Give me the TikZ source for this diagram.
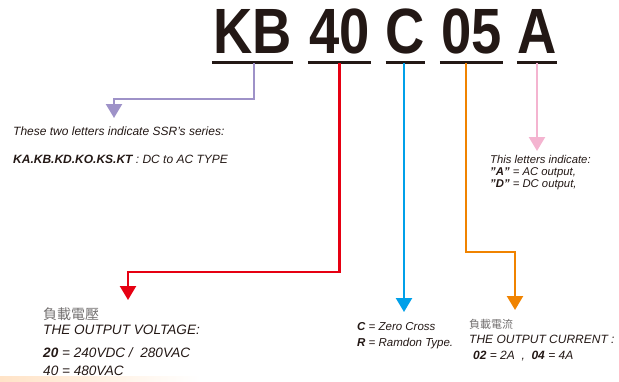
\documentclass[tikz,border=0pt]{standalone}
\usepackage{fontspec}
\setmainfont{Liberation Sans}
\newfontfamily\codefont{Liberation Sans}[FakeStretch=0.85]
\newfontfamily\cjk{Noto Sans CJK TC}
\usetikzlibrary{arrows.meta}
\definecolor{inkdark}{RGB}{35,24,21}
\definecolor{seriescol}{RGB}{158,146,200}
\definecolor{voltcol}{RGB}{230,0,18}
\definecolor{crosscol}{RGB}{0,160,233}
\definecolor{currcol}{RGB}{240,131,0}
\definecolor{outcol}{RGB}{244,180,208}
\definecolor{cjkgrey}{RGB}{115,112,112}
\tikzset{
  codeletter/.style={anchor=base, inner sep=0pt, text depth=0pt, text=inkdark,
    font=\codefont\bfseries\fontsize{64}{64}\selectfont},
  codeline/.style={draw=inkdark, line width=2.6pt},
  wire/.style={line width=2.4pt, -{Triangle[width=16pt,length=14pt]}},
  note/.style={anchor=base west, inner sep=0pt, text=inkdark, font=\itshape\fontsize{#1}{#1}\selectfont},
  note/.default=12,
  cjknote/.style={anchor=base west, inner sep=0pt, text=cjkgrey, font=\cjk\fontsize{#1}{#1}\selectfont},
}
\begin{document}
\begin{tikzpicture}[x=1pt, y=-1pt]
    \useasboundingbox (0,0) rectangle (619,381);
    \shade[left color=orange!22, right color=white] (0,376) rectangle (200,381);

    \node[codeletter, minimum width=81pt] (kb)  at (252.5,53) {KB};
    \node[codeletter, minimum width=63pt] (v40) at (339.5,53) {40};
    \node[codeletter, minimum width=39pt] (c)   at (405.5,53) {C};
    \node[codeletter, minimum width=63pt] (c05) at (471.5,53) {05};
    \node[codeletter, minimum width=40pt] (a)   at (537,53)   {A};
    \foreach \n in {kb,v40,c,c05,a}
        \draw[codeline] ([yshift=-9pt]\n.south west) -- ([yshift=-9pt]\n.south east);

    \coordinate (seriesTip) at (114,118);
    \coordinate (voltTip)   at (128,300);
    \coordinate (crossTip)  at (404,312);
    \coordinate (currTip)   at (515,310);
    \coordinate (outTip)    at (537,151);

    \draw[wire, seriescol] ([xshift=1.5pt,yshift=-10pt]kb.south) -- ++(0,36) -| (seriesTip);
    \draw[wire, voltcol]   ([yshift=-10pt]v40.south) -- ++(0,209) -| (voltTip);
    \draw[wire, crosscol]  ([xshift=-1.5pt,yshift=-10pt]c.south) -- (crossTip);
    \draw[wire, currcol]   ([xshift=-5.5pt,yshift=-10pt]c05.south) -- ++(0,189) -| (currTip);
    \draw[wire, outcol]    ([yshift=-10pt]a.south) -- (outTip);

    \node[note] (series1) at (13,135) {These two letters indicate SSR's series:};
    \node[note] (series2) at (13,163) {\textbf{KA.KB.KD.KO.KS.KT} : DC to AC TYPE};

    \node[note=11.3] (out1) at (490,163) {This letters indicate:};
    \node[note=11.3] (out2) at (490,175) {\textbf{"A"} = AC output,};
    \node[note=11.3] (out3) at (490,187) {\textbf{"D"} = DC output,};

    \node[cjknote=14] (volt0) at (43,319) {負載電壓};
    \node[note=13.6] (volt1) at (43,334) {THE OUTPUT VOLTAGE:};
    \node[note=13.6] (volt2) at (43,357) {\textbf{20} = 240VDC /\ \ 280VAC};
    \node[note=13.6] (volt3) at (43,375) {40 = 480VAC};

    \node[note=11.5] (cross1) at (357,330) {\textbf{C} = Zero Cross};
    \node[note=11.5] (cross2) at (357,346) {\textbf{R} = Ramdon Type.};

    \node[cjknote=11] (curr0) at (469,328) {負載電流};
    \node[note] (curr1) at (469,343) {THE OUTPUT CURRENT :};
    \node[note] (curr2) at (473,359) {\textbf{02} = 2A\ \ ,\ \ \textbf{04} = 4A};
\end{tikzpicture}
\end{document}
